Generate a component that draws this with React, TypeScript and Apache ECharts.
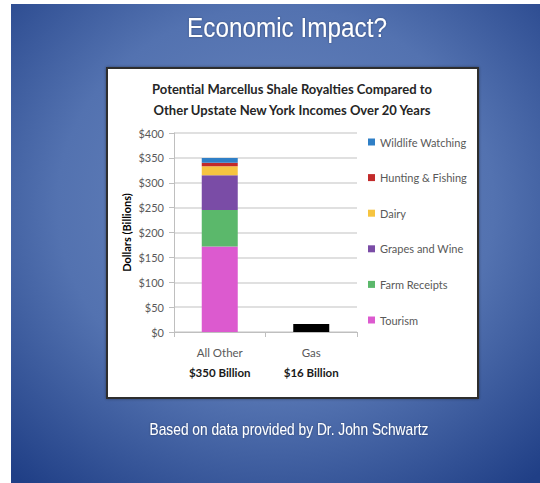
import React, { useEffect, useRef } from "react";
import * as echarts from "echarts";

const categories = ["All Other", "Gas"];
const categoryTotals = ["$350 Billion", "$16 Billion"];
const seriesNames = ["Tourism", "Farm Receipts", "Grapes and Wine", "Dairy", "Hunting & Fishing", "Wildlife Watching"];
const allOtherValues = [172, 73, 70, 18, 7, 10];
const gasValue = 16;
const legendOrder = ["Wildlife Watching", "Hunting & Fishing", "Dairy", "Grapes and Wine", "Farm Receipts", "Tourism"];
const yTicks = [0, 50, 100, 150, 200, 250, 300, 350, 400];

const seriesColors = ["#dc5acf", "#5bb86b", "#7a4ca6", "#f6c440", "#c22a2a", "#2f7fc6"];
const FONT = "Lato, 'Open Sans', sans-serif";

export default function App() {
  const ref = useRef<HTMLDivElement>(null);
  useEffect(() => {
    if (!ref.current) return;
    const chart = echarts.init(ref.current, undefined, { renderer: "svg" });
    const series: any[] = seriesNames.map((name, i) => ({
      name,
      type: "bar",
      stack: "total",
      barWidth: 36,
      itemStyle: { color: seriesColors[i] },
      data: [allOtherValues[i], "-"],
    }));
    series.push({
      name: "Gas",
      type: "bar",
      stack: "total",
      barWidth: 36,
      itemStyle: { color: "#000000" },
      data: ["-", gasValue],
    });
    chart.setOption({
      animation: false,
      textStyle: { fontFamily: FONT },
      graphic: {
        elements: [
          { type: "rect", z: -20, shape: { x: 0, y: 0, width: 540, height: 483 }, style: { fill: "#ffffff" } },
          {
            type: "rect",
            z: -19,
            shape: { x: 11, y: 4, width: 529, height: 479 },
            style: {
              fill: {
                type: "radial",
                x: 0.5,
                y: 0.42,
                r: 0.75,
                colorStops: [
                  { offset: 0, color: "#6c88bf" },
                  { offset: 0.55, color: "#5372b0" },
                  { offset: 1, color: "#203f86" },
                ],
              },
            },
          },
          {
            type: "rect",
            z: -18,
            shape: { x: 107, y: 68, width: 371, height: 330 },
            style: { fill: "#ffffff", stroke: "#2e2e2e", lineWidth: 2, shadowBlur: 3, shadowColor: "rgba(0,0,0,0.4)" },
          },
          {
            type: "text",
            z: 100,
            x: 287,
            y: 28,
            scaleX: 0.9,
            style: {
              text: "Economic Impact?",
              fill: "#ffffff",
              fontSize: 27,
              fontFamily: "'Liberation Sans', Arial, sans-serif",
              textAlign: "center",
              textVerticalAlign: "middle",
              textShadowBlur: 2,
              textShadowColor: "rgba(0,0,0,0.35)",
            },
          },
          {
            type: "text",
            z: 100,
            x: 292,
            y: 89,
            style: {
              text: "Potential Marcellus Shale Royalties Compared to",
              fill: "#262626",
              fontSize: 13,
              fontWeight: "bold",
              fontFamily: FONT,
              textAlign: "center",
              textVerticalAlign: "middle",
            },
          },
          {
            type: "text",
            z: 100,
            x: 292,
            y: 110,
            style: {
              text: "Other Upstate New York Incomes Over 20 Years",
              fill: "#262626",
              fontSize: 13,
              fontWeight: "bold",
              fontFamily: FONT,
              textAlign: "center",
              textVerticalAlign: "middle",
            },
          },
          {
            type: "text",
            z: 100,
            x: 289,
            y: 429,
            scaleX: 0.86,
            style: {
              text: "Based on data provided by Dr. John Schwartz",
              fill: "#ffffff",
              fontSize: 16,
              fontFamily: "'Liberation Sans', Arial, sans-serif",
              textAlign: "center",
              textVerticalAlign: "middle",
              textShadowBlur: 2,
              textShadowColor: "rgba(0,0,0,0.35)",
            },
          },
        ],
      },
      legend: {
        data: legendOrder,
        orient: "vertical",
        left: 368,
        top: 135,
        padding: 0,
        itemWidth: 7,
        itemHeight: 7,
        itemGap: 21.6,
        icon: "rect",
        textStyle: { color: "#595959", fontSize: 11, lineHeight: 14, fontFamily: FONT },
      },
      grid: { left: 174, top: 133, width: 183, height: 199 },
      xAxis: {
        type: "category",
        data: categories,
        axisLine: { lineStyle: { color: "#bfbfbf", width: 1 } },
        axisTick: { show: true, length: 5, lineStyle: { color: "#bfbfbf" } },
        axisLabel: {
          interval: 0,
          hideOverlap: false,
          margin: 10,
          formatter: (v: string) => {
            const i = categories.indexOf(v);
            return "{a|" + v + "}\n{b|" + categoryTotals[i] + "}";
          },
          rich: {
            a: { color: "#595959", fontSize: 11.5, lineHeight: 20, fontFamily: FONT },
            b: { color: "#1a1a1a", fontSize: 11.5, fontWeight: "bold", lineHeight: 20, fontFamily: FONT },
          },
        },
      },
      yAxis: {
        type: "value",
        min: yTicks[0],
        max: yTicks[yTicks.length - 1],
        interval: yTicks[1] - yTicks[0],
        name: "Dollars (Billions)",
        nameLocation: "middle",
        nameGap: 42,
        nameTextStyle: { color: "#000000", fontSize: 11, fontWeight: "bold", fontFamily: FONT },
        axisLine: { show: true, lineStyle: { color: "#bfbfbf" } },
        axisTick: { show: true, length: 5, lineStyle: { color: "#bfbfbf" } },
        axisLabel: { color: "#595959", fontSize: 11, margin: 10, formatter: (v: number) => "$" + v, fontFamily: FONT },
        splitLine: { lineStyle: { color: "#d6d6d6", width: 1.5 } },
      },
      series,
    });
    return () => chart.dispose();
  }, []);
  return (
    <div
      ref={ref}
      style={{ position: "absolute", left: 0, top: 0, width: 540, height: 483 }}
    />
  );
}
